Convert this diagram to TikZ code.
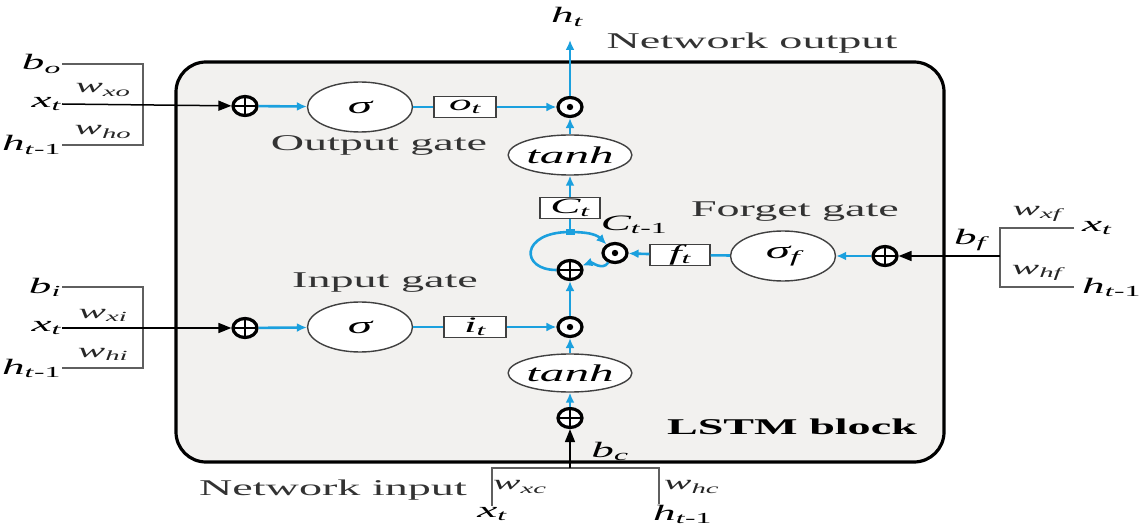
\documentclass[tikz,border=0pt]{standalone}
\usepackage{fontspec}
\setmainfont{Liberation Serif}[FakeStretch=2.05]
\usetikzlibrary{arrows.meta,shapes.geometric,positioning}
\definecolor{lstmblue}{RGB}{27,160,222}
\definecolor{blkfill}{RGB}{242,241,239}
\definecolor{wirecol}{RGB}{95,95,95}
\newcommand{\vsub}[2]{#1\textsubscript{#2}}

\begin{document}
\begin{tikzpicture}[x=1pt,y=-1pt,
  opnode/.style={ellipse,draw=black,line width=3.2pt,fill=white,
    minimum width=24pt,minimum height=19pt,inner sep=0pt},
  plus/.style={opnode,path picture={\draw[line width=1.6pt]
    (path picture bounding box.north) -- (path picture bounding box.south)
    (path picture bounding box.west) -- (path picture bounding box.east);}},
  dotp/.style={opnode},
  gate/.style={ellipse,draw=black!75,line width=1.4pt,fill=white,
    minimum width=105pt,minimum height=50pt,inner sep=0pt,
    font=\fontsize{24}{28}\selectfont\itshape},
  valbox/.style={rectangle,draw=black!75,line width=1.4pt,fill=white,
    minimum width=62pt,minimum height=21pt,inner sep=0pt,
    font=\fontsize{22}{26}\selectfont\itshape},
  var/.style={font=\fontsize{22}{26}\selectfont\itshape,inner sep=1pt},
  wvar/.style={font=\fontsize{20}{24}\selectfont\itshape,text=black!85,inner sep=1pt},
  caption/.style={font=\fontsize{22.5}{27}\selectfont,text=black!80},
  flow/.style={draw=lstmblue,line width=2.6pt,-{Latex[length=10pt,width=9pt]}},
  wire/.style={draw=lstmblue,line width=2.6pt},
  feed/.style={draw=black,line width=1.5pt,-{Triangle[length=13pt,width=10pt]}},
  brace/.style={draw=wirecol,line width=1.9pt}]
  \useasboundingbox (0,0) rectangle (1142,526);

  % LSTM block
  \draw[fill=blkfill,line width=3.2pt,rounded corners=30pt] (176,62) rectangle (944,462);
  \node[caption,font=\fontsize{22.5}{27}\selectfont\bfseries,text=black] (blkname) at (792,427) {LSTM block};

  % output gate
  \node[plus] (addo) at (245,106) {};
  \node[gate] (sigo) at (360,107) {σ};
  \node[valbox] (ot) at (465,107) {\vsub{o}{t}};
  \node[dotp] (mulo) at (570,107) {};
  \node[caption] (lo) at (379,145) {Output gate};
  \coordinate (otop) at (570,40);
  \node[var] (ht) at (567,17) {\vsub{h}{t}};
  \node[caption] (netout) at (752,43) {Network output};

  % cell state
  \node[gate,minimum width=90pt,minimum height=40pt] (tanho) at (570,155) {tanh};
  \node[valbox,minimum width=60pt] (ct) at (570,208) {\vsub{C}{t}};
  \node[fill=lstmblue,minimum width=9pt,minimum height=6pt,inner sep=0pt] (jn) at (570,232) {};
  \node[dotp] (mulf) at (615,253) {};
  \node[plus] (addc) at (570,270) {};
  \node[var] (ctm) at (634,225) {\vsub{C}{\textit{t}\textup{-1}}};

  % forget gate
  \node[plus] (addf) at (885,256) {};
  \node[gate] (sigf) at (783,256) {\vsub{σ}{f}};
  \node[valbox,minimum width=60pt] (ft) at (680,255) {\vsub{f}{t}};
  \node[caption] (lf) at (795,212) {Forget gate};

  % input gate
  \node[plus] (addi) at (245,328) {};
  \node[gate] (sigi) at (360,327) {σ};
  \node[valbox] (it) at (475,327) {\vsub{i}{t}};
  \node[dotp] (muli) at (570,327) {};
  \node[caption] (li) at (385,283) {Input gate};
  \node[gate,minimum width=90pt,minimum height=38pt] (tanhi) at (570,373) {tanh};
  \node[plus] (addb) at (570,418) {};

  % dots of the products
  \foreach \m in {mulo,mulf,muli}
    \fill (\m.center) circle (3.2pt);

  % blue flow
  \draw[flow] (addo) -- (sigo);
  \draw[wire] (sigo) -- (ot);
  \draw[flow] (ot) -- (mulo);
  \draw[flow] (mulo) -- (otop);
  \draw[flow] (tanho) -- (mulo);
  \draw[flow] (ct) -- (tanho);
  \draw[wire] (jn.center) -- (ct);
  \draw[wire] (jn.center) .. controls (520,232) and (520,270) .. (addc.west);
  \draw[flow] (jn.center) to[out=0,in=135] (mulf);
  \draw[flow] (mulf) to[out=235,in=20] (addc);
  \draw[flow] (addf) -- (sigf);
  \draw[wire] (sigf) -- (ft);
  \draw[flow] (ft) -- (mulf);
  \draw[flow] (addi) -- (sigi);
  \draw[wire] (sigi) -- (it);
  \draw[flow] (it) -- (muli);
  \draw[flow] (tanhi) -- (muli);
  \draw[flow] (muli) -- (addc);
  \draw[flow] (addb) -- (tanhi);

  % inputs of the output gate
  \node[var,anchor=east] (bo) at (62,64) {\vsub{b}{o}};
  \node[var,anchor=east] (xo) at (62,104) {\vsub{x}{t}};
  \node[var,anchor=east] (ho) at (62,145) {\vsub{h}{\textit{t}\textup{-1}}};
  \coordinate (ko) at (143,104);
  \draw[brace] (bo.east) -| (ko) |- (ho.east);
  \draw[feed] (xo.east) -- (addo);
  \node[wvar] (wxo) at (103,90) {\vsub{w}{xo}};
  \node[wvar] (who) at (103,132) {\vsub{w}{ho}};

  % inputs of the input gate
  \node[var,anchor=east] (bi) at (62,287) {\vsub{b}{i}};
  \node[var,anchor=east] (xi) at (62,328) {\vsub{x}{t}};
  \node[var,anchor=east] (hi) at (62,368) {\vsub{h}{\textit{t}\textup{-1}}};
  \coordinate (ki) at (143,328);
  \draw[brace] (bi.east) -| (ki) |- (hi.east);
  \draw[feed] (xi.east) -- (addi);
  \node[wvar] (wxi) at (103,315) {\vsub{w}{xi}};
  \node[wvar] (whi) at (103,354) {\vsub{w}{hi}};

  % inputs of the forget gate
  \node[var,anchor=west,inner xsep=8pt] (xf) at (1074,228) {\vsub{x}{t}};
  \node[var,anchor=west,inner xsep=8pt] (hf) at (1074,287) {\vsub{h}{\textit{t}\textup{-1}}};
  \coordinate (kf) at (1000,256);
  \draw[brace] (xf.west) -| (kf) |- (hf.west);
  \draw[feed] (kf) -- (addf);
  \node[var] (bf) at (970,240) {\vsub{b}{f}};
  \node[wvar] (wxf) at (1037,214) {\vsub{w}{xf}};
  \node[wvar] (whf) at (1037,273) {\vsub{w}{hf}};

  % network input
  \node[var] (xc) at (492,514) {\vsub{x}{t}};
  \node[var,anchor=west] (hc) at (652,514) {\vsub{h}{\textit{t}\textup{-1}}};
  \coordinate (kc) at (570,468);
  \draw[brace] (xc.north) |- (kc) -| ([xshift=7pt]hc.north west);
  \draw[feed] (kc) -- (addb);
  \node[var] (bc) at (610,451) {\vsub{b}{c}};
  \node[wvar,anchor=west] (wxc) at (492,487) {\vsub{w}{xc}};
  \node[wvar,anchor=west] (whc) at (663,487) {\vsub{w}{hc}};
  \node[caption] (netin) at (333,490) {Network input};
\end{tikzpicture}
\end{document}
